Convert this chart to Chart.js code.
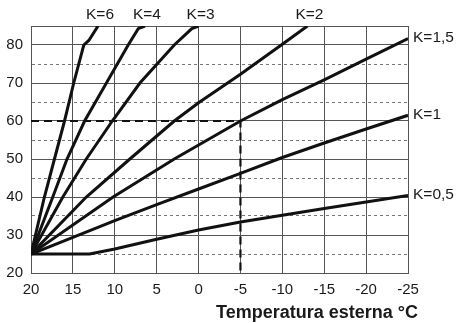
<!DOCTYPE html>
<html>
<head>
<meta charset="utf-8">
<script src="https://cdn.jsdelivr.net/npm/chart.js@4"></script>
<style>
  html, body { margin: 0; padding: 0; background: #fff; }
  #wrap { width: 456px; height: 323px; }
</style>
</head>
<body>
<div id="wrap"><canvas id="chart" width="456" height="323"></canvas></div>
<script>
// curve labels (Italian decimal comma)
const curveNames = ['K=6', 'K=4', 'K=3', 'K=2', 'K=1,5', 'K=1', 'K=0,5'];

// outside temperature (x) and flow temperature (y)
const k6Temp = [20, 18.4, 17.2, 16, 14.9, 13.7, 13.1, 12];
const k6Flow = [25, 40, 50, 60, 70, 80, 81.2, 85];
const k4Temp = [20, 17.4, 15.7, 13.6, 11, 8.4, 7.2, 6.4];
const k4Flow = [25, 40, 50, 60, 70, 80, 84.3, 85];
const k3Temp = [20, 16.2, 13.4, 10.3, 7, 2.9, 0.8, 0];
const k3Flow = [25, 40, 50, 60, 70, 80, 84.3, 85];
const k2Temp = [20, 13.4, 8.2, 2.9, 0, -5, -10, -13];
const k2Flow = [25, 40, 50, 60, 64.8, 72.3, 80.2, 85];
const k15Temp = [20, 10.2, 2.9, -5, -10, -15, -20, -25];
const k15Flow = [25, 40, 50, 60, 65.6, 70.8, 76.3, 81.7];
const k1Temp = [20, 15, 10, 5, 0, -5, -10, -15, -20, -25];
const k1Flow = [25, 29.4, 33.8, 38, 42.1, 46.2, 50.4, 54.2, 57.9, 61.5];
const k05Temp = [20, 13, 10, 5, 0, -5, -10, -15, -20, -25];
const k05Flow = [25, 25, 26.3, 28.9, 31.3, 33.4, 35.2, 37, 38.7, 40.4];

// design point shown with the dashed guide
const guideTemp = [20, -5, -5];
const guideFlow = [60, 60, 20];

const xTitle = 'Temperatura esterna °C';

function pts(xs, ys) {
  return xs.map((x, i) => ({ x: x, y: ys[i] }));
}

const curves = [
  pts(k6Temp, k6Flow), pts(k4Temp, k4Flow), pts(k3Temp, k3Flow),
  pts(k2Temp, k2Flow), pts(k15Temp, k15Flow), pts(k1Temp, k1Flow),
  pts(k05Temp, k05Flow)
];

const FONT = "'Liberation Sans', Arial, sans-serif";

const datasets = curves.map((c, i) => ({
  label: curveNames[i],
  data: c,
  borderColor: '#111',
  borderWidth: 3,
  pointRadius: 0,
  tension: 0,
  fill: false
}));
datasets.push({
  label: 'guide',
  data: pts(guideTemp, guideFlow),
  borderColor: '#111',
  borderWidth: 2.2,
  borderDash: [8, 5],
  pointRadius: 0,
  tension: 0,
  fill: false
});

// curve names and axis title
const labelPlugin = {
  id: 'labels',
  afterDatasetsDraw(chart) {
    const c = chart.ctx;
    const xs = chart.scales.x, ys = chart.scales.y;
    const area = chart.chartArea;
    c.save();
    c.fillStyle = '#1a1a1a';
    c.font = '15.5px ' + FONT;
    c.textBaseline = 'middle';
    curves.forEach((pts, i) => {
      const last = pts[pts.length - 1];
      const px = xs.getPixelForValue(last.x);
      const py = ys.getPixelForValue(last.y);
      if (last.y >= 85) {
        c.textAlign = 'center';
        c.fillText(curveNames[i], px + 2, 15);
      } else {
        c.textAlign = 'left';
        c.fillText(curveNames[i], area.right + 5, py - 1);
      }
    });
    c.font = 'bold 18px ' + FONT;
    c.textAlign = 'right';
    c.fillText(xTitle, area.right + 10, 313);
    c.restore();
  }
};

new Chart(document.getElementById('chart'), {
  type: 'line',
  data: { datasets },
  options: {
    responsive: false,
    animation: false,
    layout: { padding: { top: 26, right: 48, left: 0, bottom: 0 } },
    plugins: { legend: { display: false }, tooltip: { enabled: false } },
    scales: {
      x: {
        type: 'linear',
        reverse: true,
        min: -25,
        max: 20,
        afterFit: s => { s.height = 50; },
        ticks: {
          stepSize: 5,
          padding: 8,
          autoSkip: false,
          color: '#1a1a1a',
          font: { family: FONT, size: 15 },
          maxRotation: 0
        },
        grid: { color: '#555', lineWidth: 1, drawTicks: false },
        border: { color: '#555', width: 1 }
      },
      y: {
        min: 20,
        max: 85,
        afterFit: s => { s.width = 31; },
        ticks: {
          stepSize: 5,
          padding: 8,
          autoSkip: false,
          color: '#1a1a1a',
          font: { family: FONT, size: 15 },
          callback: v => (v % 10 === 0 ? v : '')
        },
        grid: {
          drawTicks: false,
          lineWidth: 1,
          color: ctx => (ctx.tick && ctx.tick.value % 10 !== 0 && ctx.tick.value !== 85 ? '#777' : '#555')
        },
        border: {
          color: '#555',
          width: 1,
          dash: ctx => (ctx.tick && ctx.tick.value % 10 !== 0 && ctx.tick.value !== 85 ? [3, 3] : [])
        }
      }
    }
  },
  plugins: [labelPlugin]
});
</script>
</body>
</html>
